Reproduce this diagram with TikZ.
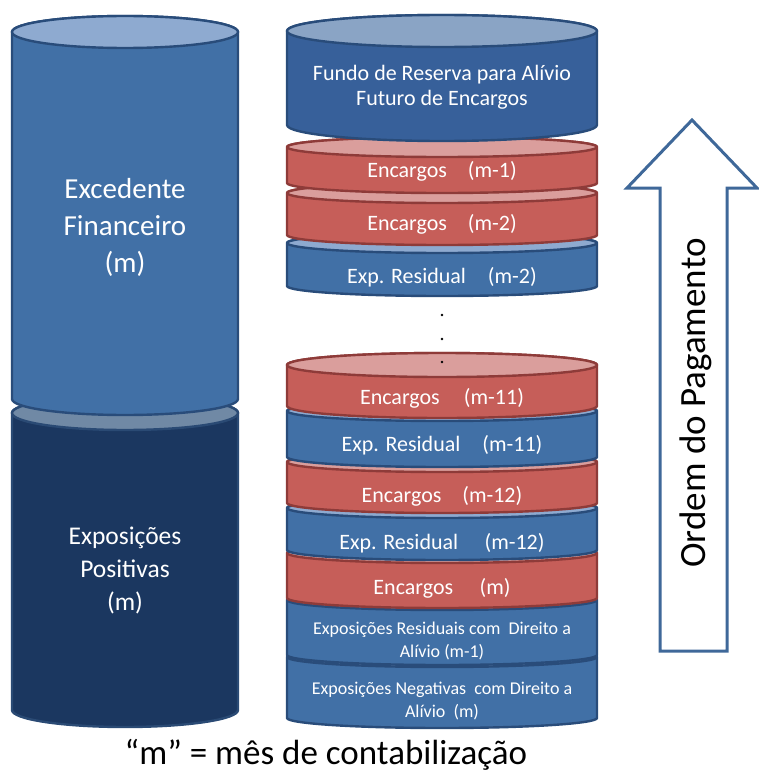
\documentclass[tikz,border=0pt]{standalone}
\usepackage{fontspec}
\setmainfont{Carlito}
\definecolor{azulCorpo}{HTML}{4170A6}
\definecolor{azulTampa}{HTML}{8EAAD0}
\definecolor{azulLinha}{HTML}{294C7A}
\definecolor{fundoCorpo}{HTML}{37609A}
\definecolor{fundoTampa}{HTML}{8AA4C5}
\definecolor{vermCorpo}{HTML}{C65E59}
\definecolor{vermTampa}{HTML}{DA9E9C}
\definecolor{vermLinha}{HTML}{8E3B39}
\definecolor{marinhoCorpo}{HTML}{1B3760}
\definecolor{marinhoTampa}{HTML}{7089A5}
\definecolor{marinhoLinha}{HTML}{2A4A74}
\definecolor{setaLinha}{HTML}{3F6899}

% a drum: left x, right x, lid centre y, base centre y, ellipse half height, body, lid, outline
\newcommand{\tambor}[8]{%
  \pgfmathsetmacro{\tamrx}{(#2-#1)/2}%
  \pgfmathsetmacro{\tamcx}{(#1+#2)/2}%
  \filldraw[fill=#6, draw=#8, drumline] (#1,-#3) -- (#1,-#4)
    arc[start angle=180, end angle=360, x radius=\tamrx pt, y radius=#5 pt]
    -- (#2,-#3)
    arc[start angle=0, end angle=180, x radius=\tamrx pt, y radius=#5 pt] -- cycle;
  \filldraw[fill=#7, draw=#8, drumline] (\tamcx,-#3) ellipse[x radius=\tamrx pt, y radius=#5 pt];
}

\tikzset{
  drumline/.style={line width=2.4pt, line join=round},
  rotulo/.style={text=white, align=center, inner sep=0pt},
  rot22/.style={rotulo, font=\fontsize{22}{25}\selectfont},
  rot18/.style={rotulo, font=\fontsize{18}{23}\selectfont},
  ponto/.style={circle, fill=black, inner sep=0pt, minimum size=2.8pt},
  seta/.style={draw=setaLinha, line width=3pt, fill=white, line join=miter}
}

\begin{document}
\begin{tikzpicture}[x=1pt, y=1pt]
\useasboundingbox (0,0) rectangle (759,-776);

% left column
\tambor{12}{238}{413}{710}{17}{marinhoCorpo}{marinhoTampa}{marinhoLinha}
\tambor{12}{238}{32}{399}{16}{azulCorpo}{azulTampa}{azulLinha}
\node[rotulo, font=\fontsize{29}{37}\selectfont] (excedente) at (125,-227) {Excedente\\Financeiro\\(m)};
\node[rotulo, font=\fontsize{25.5}{33}\selectfont] (positivas) at (125,-570) {Exposições\\Positivas\\(m)};

% right stack, drawn from the base upwards
\tambor{287}{597}{657}{718}{10}{azulCorpo}{azulTampa}{azulLinha}
\tambor{287}{597}{600}{655}{10}{azulCorpo}{azulTampa}{azulLinha}
\tambor{287}{597}{553}{598}{10}{vermCorpo}{vermTampa}{vermLinha}
\tambor{287}{597}{508}{550}{10}{azulCorpo}{azulTampa}{azulLinha}
\tambor{287}{597}{462}{503}{10}{vermCorpo}{vermTampa}{vermLinha}
\tambor{287}{597}{411}{457}{10}{azulCorpo}{azulTampa}{azulLinha}
\tambor{287}{597}{365}{406}{12}{vermCorpo}{vermTampa}{vermLinha}

\tambor{287}{597}{243}{286}{10}{azulCorpo}{azulTampa}{azulLinha}
\tambor{287}{597}{193}{235}{10}{vermCorpo}{vermTampa}{vermLinha}
\tambor{287}{597}{147}{183}{10}{vermCorpo}{vermTampa}{vermLinha}
\tambor{287}{597}{31}{125}{16}{fundoCorpo}{fundoTampa}{azulLinha}

\node[rot22] (fundo) at (442,-87) {Fundo de Reserva para Alívio\\Futuro de Encargos};
\node[rot22] (enc1) at (442,-171) {Encargos\hspace{0.95em}(m-1)};
\node[rot22] (enc2) at (442,-224) {Encargos\hspace{0.95em}(m-2)};
\node[rot22] (res2) at (442,-277) {Exp. Residual\hspace{1em}(m-2)};
\node[rot22] (enc11) at (442,-398) {Encargos\hspace{1.1em}(m-11)};
\node[rot22] (res11) at (442,-445) {Exp. Residual\hspace{1em}(m-11)};
\node[rot22] (enc12) at (442,-496) {Encargos\hspace{0.95em}(m-12)};
\node[rot22] (res12) at (442,-543) {Exp. Residual\hspace{1.2em}(m-12)};
\node[rot22] (encm) at (442,-588) {Encargos\hspace{1.2em}(m)};
\node[rot18] (resid) at (442,-641) {Exposições Residuais com\ \ Direito a\\Alívio (m-1)};
\node[rot18] (negat) at (442,-701) {Exposições Negativas\ \ com Direito a\\Alívio\ \ (m)};

% ellipsis between the two groups
\node[ponto] (p1) at (442,-315) {};
\node[ponto] (p2) at (442,-339) {};
\node[ponto] (p3) at (442,-362) {};

% payment order arrow
\draw[seta] (660,-651) -- (660,-188) -- (627,-188) -- (692,-120) -- (757,-188)
  -- (727,-188) -- (727,-651) -- cycle;
\node[rotate=90, inner sep=0pt, font=\fontsize{37}{40}\selectfont] (ordem) at (696,-403) {Ordem do Pagamento};

% legend
\node[inner sep=0pt, font=\fontsize{35}{38}\selectfont] (legenda) at (326,-755) {“m” = mês de contabilização};
\end{tikzpicture}
\end{document}
